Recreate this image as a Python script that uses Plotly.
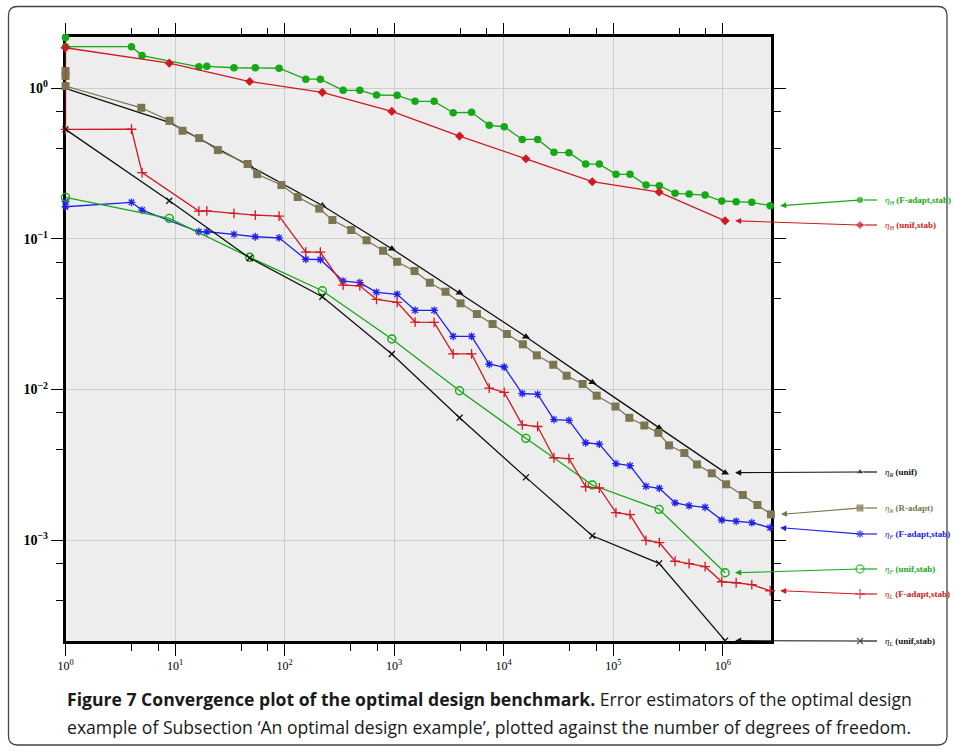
import math
import plotly.graph_objects as go

# ---------------- data ----------------
x_unif = [1, 8.86, 48, 221, 952, 3955, 15950, 64400, 262000, 1050000]
x_fadapt = [1, 1, 4, 5, 16.5, 19.5, 34.5, 54, 89, 156, 212, 342, 486, 690, 1064, 1553,
            2317, 3457, 5090, 7380, 10110, 14760, 20400, 28760, 39440, 56000, 74600,
            105900, 142200, 199000, 263600, 366600, 492300, 689000, 979000, 1324000,
            1840000, 2705000]
x_radapt = [1, 1, 1, 4.92, 8.92, 11.7, 16.6, 24.6, 46.0, 56.2, 93.5, 131.7, 207, 273, 406,
            560, 793, 1064, 1534, 2117, 2945, 4039, 5691, 7916, 10700, 14980, 20070, 28340,
            37550, 52590, 70620, 104800, 140200, 192200, 258000, 323100, 445800, 582400,
            793400, 1072000, 1523000, 2071000, 2750000]

eta_H_fadapt = [2.18, 1.89, 1.89, 1.65, 1.39, 1.40, 1.37, 1.37, 1.36, 1.15, 1.15, 0.970,
                0.970, 0.903, 0.899, 0.820, 0.820, 0.689, 0.693, 0.568, 0.556, 0.458, 0.458,
                0.376, 0.374, 0.314, 0.314, 0.2685, 0.2685, 0.228, 0.2255, 0.201, 0.1987,
                0.1956, 0.1786, 0.1766, 0.175, 0.1662]
eta_H_unif = [1.86, 1.47, 1.11, 0.941, 0.703, 0.482, 0.3406, 0.2398, 0.2048, 0.132]
eta_R_unif = [1.0, 0.594, 0.305, 0.1667, 0.0861, 0.0439, 0.02243, 0.01116, 0.00558, 0.002805]
eta_R_radapt = [1.303, 1.207, 1.036, 0.743, 0.609, 0.523, 0.4677, 0.389, 0.3144, 0.269,
                0.228, 0.1897, 0.1591, 0.1335, 0.1146, 0.0979, 0.0835, 0.0705, 0.0612,
                0.0512, 0.0446, 0.03736, 0.03172, 0.02722, 0.02336, 0.01996, 0.01687,
                0.01461, 0.01235, 0.01088, 0.00910, 0.00771, 0.00649, 0.00577, 0.00516,
                0.00426, 0.00379, 0.00318, 0.00278, 0.002348, 0.001993, 0.001710, 0.001483]
eta_F_fadapt = [0.1766, 0.1636, 0.175, 0.1555, 0.1116, 0.1116, 0.1073, 0.1034, 0.1017,
                0.0733, 0.0730, 0.0525, 0.0513, 0.0442, 0.0429, 0.03356, 0.03356, 0.02256,
                0.02256, 0.01472, 0.01411, 0.00941, 0.00929, 0.00632, 0.00624, 0.00443,
                0.00434, 0.00322, 0.00312, 0.002276, 0.002208, 0.001769, 0.001692, 0.001651,
                0.001360, 0.001333, 0.001305, 0.001209]
eta_F_unif = [0.1889, 0.1370, 0.0755, 0.0453, 0.02164, 0.00982, 0.00474, 0.002322,
              0.001601, 0.000607]
eta_L_fadapt = [1.86, 0.534, 0.535, 0.276, 0.1532, 0.1535, 0.1479, 0.1441, 0.1419, 0.0818,
                0.0818, 0.0494, 0.0488, 0.0397, 0.0379, 0.02806, 0.02795, 0.01726, 0.01726,
                0.01023, 0.00958, 0.00583, 0.00568, 0.003524, 0.003471, 0.002262, 0.002218,
                0.001521, 0.001475, 0.000997, 0.000961, 0.000724, 0.000697, 0.000666,
                0.000529, 0.000521, 0.000506, 0.000461]
eta_L_unif = [0.534, 0.1793, 0.0747, 0.0413, 0.0172, 0.0065, 0.00261, 0.001069, 0.000701,
              0.000215]

legend_symbols = ["<i>η<sub>H</sub></i>", "<i>η<sub>H</sub></i>", "<i>η<sub>R</sub></i>",
                  "<i>η<sub>R</sub></i>", "<i>η<sub>F</sub></i>", "<i>η<sub>F</sub></i>",
                  "<i>η<sub>L</sub></i>", "<i>η<sub>L</sub></i>"]
legend_texts = ["(F-adapt,stab)", "(unif,stab)", "(unif)", "(R-adapt)", "(F-adapt,stab)",
                "(unif,stab)", "(F-adapt,stab)", "(unif,stab)"]

x_ticks = [1, 10, 100, 1e3, 1e4, 1e5, 1e6]
x_ticktext = ["10<sup>0</sup>", "10<sup>1</sup>", "10<sup>2</sup>", "10<sup>3</sup>",
              "10<sup>4</sup>", "10<sup>5</sup>", "10<sup>6</sup>"]
x_minor = [4, 7, 40, 70, 400, 700, 4e3, 7e3, 4e4, 7e4, 4e5, 7e5]
y_ticks = [1, 0.1, 0.01, 0.001]
y_ticktext = ["<b>10<sup>0</sup></b>", "<b>10<sup>−1</sup></b>", "<b>10<sup>−2</sup></b>",
              "<b>10<sup>−3</sup></b>"]
y_minor = [4e-4, 7e-4, 4e-3, 7e-3, 0.04, 0.07, 0.4, 0.7]

caption_bold = "Figure 7 Convergence plot of the optimal design benchmark."
caption_rest1 = " Error estimators of the optimal design"
caption_line2 = ("example of Subsection ‘An optimal design example’, plotted against the "
                 "number of degrees of freedom.")

# ---------------- styles / layout ----------------
W, H = 955, 752
PX_L, PX_R, PY_T, PY_B = 65.5, 771.0, 37.3, 641.0
XR = (0.0, 6.44)
YR = (-3.67, 0.339)

GREEN = "#16a816"
RED = "#cf1a22"
BLACK = "#111111"
OLIVE = "#7b7551"
BLUE = "#2020f0"

series = [
    dict(x=x_fadapt, y=eta_H_fadapt, color=GREEN, marker=dict(symbol="circle", size=7.5)),
    dict(x=x_unif, y=eta_H_unif, color=RED, marker=dict(symbol="diamond", size=7)),
    dict(x=x_unif, y=eta_R_unif, color=BLACK, marker=dict(symbol="triangle-up", size=7)),
    dict(x=x_radapt, y=eta_R_radapt, color=OLIVE, marker=dict(symbol="square", size=8)),
    dict(x=x_fadapt, y=eta_F_fadapt, color=BLUE,
         marker=dict(symbol="asterisk-open", size=6.5, line=dict(width=1.3))),
    dict(x=x_unif, y=eta_F_unif, color=GREEN,
         marker=dict(symbol="circle-open", size=8, line=dict(width=1.4))),
    dict(x=x_fadapt, y=eta_L_fadapt, color=RED,
         marker=dict(symbol="cross-thin-open", size=7, line=dict(width=1.3))),
    dict(x=x_unif, y=eta_L_unif, color=BLACK,
         marker=dict(symbol="x-thin-open", size=6, line=dict(width=1.3))),
]
legend_y_px = [200, 225, 472, 508, 534, 569, 594, 641]
LEG_MARK_X, LEG_LINE_END, LEG_TEXT_X = 860, 877, 883
HEAD_GAP = 10


def to_px(xv, yv):
    px = PX_L + (math.log10(xv) - XR[0]) / (XR[1] - XR[0]) * (PX_R - PX_L)
    py = PY_B - (math.log10(yv) - YR[0]) / (YR[1] - YR[0]) * (PY_B - PY_T)
    return px, py


fig = go.Figure()

for s in series:
    m = dict(s["marker"])
    m["color"] = s["color"]
    if "line" in m:
        m["line"] = dict(m["line"], color=s["color"])
    fig.add_trace(go.Scatter(x=s["x"], y=s["y"], mode="lines+markers",
                             line=dict(color=s["color"], width=1.3), marker=m,
                             xaxis="x", yaxis="y", hoverinfo="skip", cliponaxis=False))

annotations = []
for s, ly, sym, txt in zip(series, legend_y_px, legend_symbols, legend_texts):
    m = dict(s["marker"])
    m["color"] = s["color"]
    if "line" in m:
        m["line"] = dict(m["line"], color=s["color"])
    m["size"] = [m["size"], 0]
    fig.add_trace(go.Scatter(x=[LEG_MARK_X, LEG_LINE_END], y=[ly, ly], mode="lines+markers",
                             line=dict(color=s["color"], width=1.2), marker=m,
                             xaxis="x2", yaxis="y2", hoverinfo="skip", cliponaxis=False))
    hx, hy = to_px(s["x"][-1], s["y"][-1])
    annotations.append(dict(xref="x2", yref="y2", axref="x2", ayref="y2",
                            x=hx + HEAD_GAP, y=hy, ax=LEG_MARK_X, ay=ly, text="",
                            showarrow=True, arrowhead=2, arrowsize=1.1, arrowwidth=1.1,
                            arrowcolor=s["color"]))
    annotations.append(dict(xref="x2", yref="y2", x=LEG_TEXT_X, y=ly, xanchor="left",
                            yanchor="middle", showarrow=False,
                            text=sym + " <b>" + txt + "</b>",
                            font=dict(family="Liberation Serif", size=9, color=s["color"])))

annotations.append(dict(xref="paper", yref="paper", x=65 / W, y=1 - 699 / H, xanchor="left",
                        yanchor="middle", showarrow=False,
                        text="<b>" + caption_bold + "</b>" + caption_rest1,
                        font=dict(family="Open Sans", size=17.6, color="#1a1a1a")))
annotations.append(dict(xref="paper", yref="paper", x=65 / W, y=1 - 727 / H, xanchor="left",
                        yanchor="middle", showarrow=False, text=caption_line2,
                        font=dict(family="Open Sans", size=17.6, color="#1a1a1a")))

# rounded outer frame (paper coords)
def P(px, py):
    return f"{px / W:.5f},{1 - py / H:.5f}"

L, T, R, B, r = 8.5, 6.5, 947.0, 745.0, 9
frame_path = (f"M {P(L + r, T)} L {P(R - r, T)} Q {P(R, T)} {P(R, T + r)} "
              f"L {P(R, B - r)} Q {P(R, B)} {P(R - r, B)} L {P(L + r, B)} "
              f"Q {P(L, B)} {P(L, B - r)} L {P(L, T + r)} Q {P(L, T)} {P(L + r, T)} Z")

shapes = [
    dict(type="rect", xref="paper", yref="paper", x0=PX_L / W, x1=PX_R / W,
         y0=1 - PY_B / H, y1=1 - PY_T / H, fillcolor="#ededed", line=dict(width=0),
         layer="below"),
    dict(type="path", xref="paper", yref="paper", path=frame_path,
         line=dict(color="#444444", width=1.3), layer="below"),
]

axis_common = dict(type="log", showline=True, linewidth=2.5, linecolor="black",
                   mirror="ticks", ticks="outside", ticklen=12, tickwidth=1.4,
                   tickcolor="black", showgrid=True, gridcolor="#cdcdcd", gridwidth=1,
                   zeroline=False, tickmode="array", automargin=False,
                   layer="below traces")

fig.update_layout(
    width=W, height=H, margin=dict(l=0, r=0, t=0, b=0, autoexpand=False),
    paper_bgcolor="white", plot_bgcolor="rgba(0,0,0,0)", showlegend=False,
    xaxis=dict(axis_common, range=list(XR), domain=[PX_L / W, PX_R / W], anchor="y",
               tickvals=x_ticks, ticktext=x_ticktext,
               tickfont=dict(family="Liberation Serif", size=12, color="black"),
               minor=dict(tickvals=x_minor, ticks="outside", ticklen=7, tickwidth=1.2,
                          tickcolor="black", showgrid=False)),
    yaxis=dict(axis_common, range=list(YR), domain=[1 - PY_B / H, 1 - PY_T / H], anchor="x",
               tickvals=y_ticks, ticktext=y_ticktext,
               tickfont=dict(family="Liberation Serif", size=14, color="black"),
               minor=dict(tickvals=y_minor, ticks="outside", ticklen=7, tickwidth=1.2,
                          tickcolor="black", showgrid=False)),
    xaxis2=dict(domain=[0, 1], range=[0, W], visible=False, anchor="y2", automargin=False),
    yaxis2=dict(domain=[0, 1], range=[H, 0], visible=False, anchor="x2", automargin=False),
    annotations=annotations,
    shapes=shapes,
)

fig.write_html("out.html")
